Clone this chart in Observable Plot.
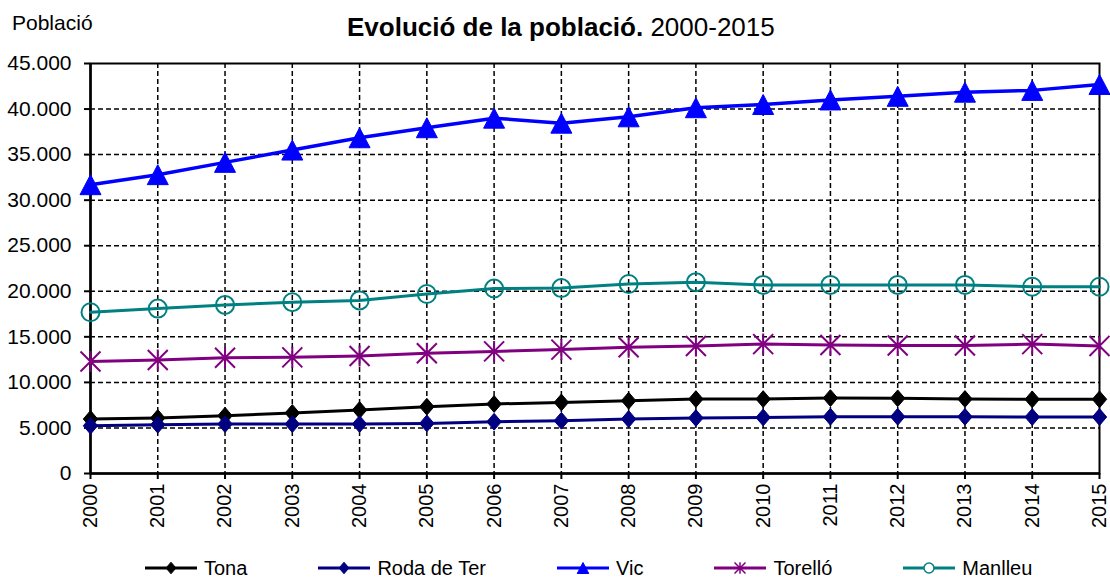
<!DOCTYPE html>
<html>
<head>
<meta charset="utf-8">
<script src="https://cdn.jsdelivr.net/npm/d3@7"></script>
<script src="https://cdn.jsdelivr.net/npm/@observablehq/plot@0.6"></script>
<style>
  html, body { margin: 0; padding: 0; background: #fff; }
  body { font-family: "Liberation Sans", Arial, sans-serif; color: #000; }
  #wrap { position: relative; width: 1110px; height: 578px; overflow: hidden; }
  #ylabel { position: absolute; left: 12px; top: 12px; font-size: 21px; line-height: 21px; white-space: nowrap; }
  #title { position: absolute; left: 347px; top: 14px; font-size: 26px; line-height: 26px; white-space: nowrap; }
  #title b { font-weight: bold; }
  #chart { position: absolute; left: 0; top: 50px; }
  #legend { position: absolute; left: 145px; top: 558px; display: flex; gap: 71px; align-items: center; font-size: 20px; line-height: 20px; }
  #legend .item { display: flex; align-items: center; white-space: nowrap; }
  #legend .item svg { display: block; margin-right: 7px; }
</style>
</head>
<body>
<div id="wrap">
  <div id="ylabel">Població</div>
  <div id="title"><b>Evolució de la població.</b> 2000-2015</div>
  <div id="chart"></div>
  <div id="legend"></div>
</div>
<script>
// ---- Data ----
const years = [2000, 2001, 2002, 2003, 2004, 2005, 2006, 2007, 2008, 2009, 2010, 2011, 2012, 2013, 2014, 2015];
const seriesNames = ["Tona", "Roda de Ter", "Vic", "Torelló", "Manlleu"];
const tona      = [5980, 6090, 6340, 6640, 6970, 7330, 7630, 7800, 7990, 8170, 8170, 8280, 8250, 8180, 8140, 8140];
const rodaDeTer = [5240, 5350, 5420, 5420, 5430, 5500, 5680, 5790, 5980, 6090, 6150, 6230, 6230, 6220, 6200, 6200];
const vic       = [31700, 32800, 34150, 35500, 36850, 37950, 39000, 38450, 39150, 40150, 40500, 41000, 41400, 41850, 42050, 42700];
const torello   = [12300, 12450, 12700, 12750, 12900, 13200, 13400, 13600, 13850, 14000, 14200, 14100, 14050, 14050, 14200, 14000];
const manlleu   = [17700, 18100, 18500, 18800, 19000, 19700, 20300, 20350, 20800, 21000, 20700, 20700, 20700, 20700, 20500, 20500];
const yTicks = [0, 5000, 10000, 15000, 20000, 25000, 30000, 35000, 40000, 45000];
const colors = ["#000000", "#000080", "#0000ff", "#800080", "#008080"];

const valuesBySeries = [tona, rodaDeTer, vic, torello, manlleu];
const data = seriesNames.flatMap((s, i) => years.map((yr, j) => ({series: s, year: yr, value: valuesBySeries[i][j]})));

// ---- Custom symbols (size = PI * r^2) ----
const diamondSym = {draw(ctx, size) {
  const r = Math.sqrt(size / Math.PI), w = r * 0.9, h = r * 1.05;
  ctx.moveTo(0, -h); ctx.lineTo(w, 0); ctx.lineTo(0, h); ctx.lineTo(-w, 0); ctx.closePath();
}};
const triangleSym = {draw(ctx, size) {
  const r = Math.sqrt(size / Math.PI);
  ctx.moveTo(0, -r); ctx.lineTo(1.05 * r, r); ctx.lineTo(-1.05 * r, r); ctx.closePath();
}};
const asteriskSym = {draw(ctx, size) {
  const r = Math.sqrt(size / Math.PI);
  ctx.moveTo(-r, -r); ctx.lineTo(r, r);
  ctx.moveTo(-r, r); ctx.lineTo(r, -r);
  ctx.moveTo(0, -1.05 * r); ctx.lineTo(0, 1.05 * r);
}};
const circleSym = {draw(ctx, size) {
  const r = Math.sqrt(size / Math.PI);
  ctx.moveTo(r, 0); ctx.arc(0, 0, r, 0, 2 * Math.PI);
}};
const symbols = [diamondSym, diamondSym, triangleSym, asteriskSym, circleSym];
const plotR = [8, 8, 10, 10, 9];
const legendR = [5.5, 5.5, 5.5, 5.5, 5];
const filled = [true, true, true, false, false];
const lineW = [3, 3, 3.5, 3, 3];

const fmt = d => d === 0 ? "0" : d3.format(",")(d).replace(/,/g, ".");

const gridYears = years.filter(y => y !== years[0] && y !== years[years.length - 1]);
const gridY = yTicks.filter(v => v !== yTicks[0] && v !== yTicks[yTicks.length - 1]);

const marks = [
  Plot.ruleY(gridY, {stroke: "#000", strokeWidth: 1.5, strokeDasharray: "5,3"}),
  Plot.ruleX(gridYears, {stroke: "#000", strokeWidth: 1.5, strokeDasharray: "5,3"}),
  Plot.frame({stroke: "#000", strokeWidth: 2}),
  Plot.ruleX([years[0]], {stroke: "#000", strokeWidth: 2.5}),
  Plot.ruleY([0], {stroke: "#000", strokeWidth: 2.5}),
  Plot.axisY({ticks: yTicks, tickSize: 6, tickPadding: 13, fontSize: 21, tickFormat: fmt, strokeWidth: 2, label: null}),
  Plot.axisX({ticks: years, tickSize: 6, tickPadding: 4, fontSize: 20, tickFormat: d => String(d), tickRotate: -90, strokeWidth: 2, label: null})
];
seriesNames.forEach((name, i) => {
  const rows = data.filter(d => d.series === name);
  marks.push(Plot.line(rows, {x: "year", y: "value", stroke: colors[i], strokeWidth: lineW[i]}));
});
seriesNames.forEach((name, i) => {
  const rows = data.filter(d => d.series === name);
  marks.push(Plot.dot(rows, {
    x: "year", y: "value", symbol: symbols[i], r: plotR[i],
    fill: filled[i] ? colors[i] : "none",
    stroke: colors[i], strokeWidth: filled[i] ? 1 : 2
  }));
});

const chart = Plot.plot({
  width: 1110,
  height: 490,
  marginTop: 13,
  marginLeft: 90,
  marginRight: 11,
  marginBottom: 67,
  style: {fontFamily: "'Liberation Sans', Arial, sans-serif", color: "#000", background: "#fff", overflow: "visible"},
  x: {type: "linear", domain: [years[0], years[years.length - 1]], label: null},
  y: {type: "linear", domain: [yTicks[0], yTicks[yTicks.length - 1]], label: null},
  marks
});
document.getElementById("chart").appendChild(chart);

// ---- Legend ----
const legend = document.getElementById("legend");
seriesNames.forEach((name, i) => {
  const item = document.createElement("div");
  item.className = "item";
  const svg = d3.create("svg").attr("width", 52).attr("height", 20);
  svg.append("line").attr("x1", 0).attr("x2", 52).attr("y1", 10).attr("y2", 10)
    .attr("stroke", colors[i]).attr("stroke-width", 3);
  const p = d3.path();
  symbols[i].draw(p, Math.PI * legendR[i] * legendR[i]);
  svg.append("path").attr("d", p.toString()).attr("transform", "translate(26,10)")
    .attr("fill", filled[i] ? colors[i] : "#fff")
    .attr("stroke", colors[i]).attr("stroke-width", filled[i] ? 1 : 1.5);
  item.appendChild(svg.node());
  const span = document.createElement("span");
  span.textContent = name;
  item.appendChild(span);
  legend.appendChild(item);
});
</script>
</body>
</html>
